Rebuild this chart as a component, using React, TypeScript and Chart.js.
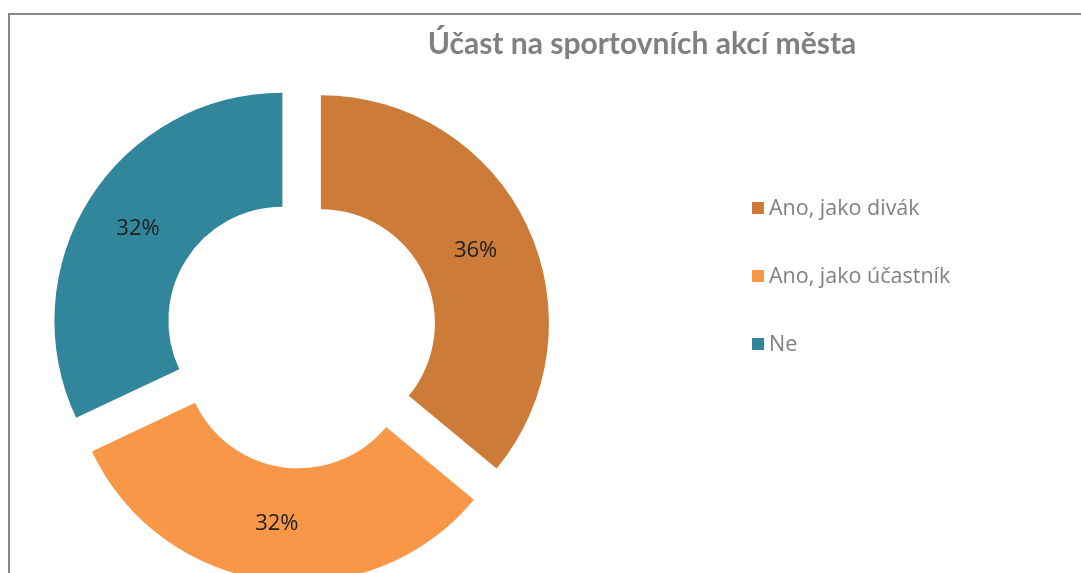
import React, { useEffect, useRef } from "react";
import { Chart, registerables } from "chart.js";

Chart.register(...registerables);

const chartTitle = "Účast na sportovních akcí města";
const categories = ["Ano, jako divák", "Ano, jako účastník", "Ne"];
const values = [36, 32, 32];
const colors = ["#CC7B39", "#F79747", "#31869C"];

const W = 1081;
const H = 573;
// displacement of each exploded slice along its bisector (px)
const SLICE_OFFSET = 22;

const decorPlugin = {
  id: "decor",
  beforeDraw(chart: any) {
    const ctx = chart.ctx;
    ctx.save();
    ctx.fillStyle = "#ffffff";
    ctx.fillRect(0, 0, W, H);
    ctx.fillStyle = "#888888";
    ctx.fillRect(8, 13, W - 8, 2);
    ctx.fillRect(8, 13, 2, H - 13);
    ctx.restore();
  },
  beforeDatasetsDraw(chart: any) {
    // explode every slice uniformly (Excel style): shift the whole arc along its bisector
    const meta = chart.getDatasetMeta(0);
    meta.data.forEach((arc: any) => {
      if (arc.__exploded) return;
      const orig = arc.draw.bind(arc);
      arc.draw = (ctx: CanvasRenderingContext2D, area: any) => {
        const mid = (arc.startAngle + arc.endAngle) / 2;
        ctx.save();
        ctx.translate(Math.cos(mid) * SLICE_OFFSET, Math.sin(mid) * SLICE_OFFSET);
        orig(ctx, area);
        ctx.restore();
      };
      arc.__exploded = true;
    });
  },
  afterDatasetsDraw(chart: any) {
    const ctx = chart.ctx;
    const meta = chart.getDatasetMeta(0);
    const data = chart.data.datasets[0].data as number[];
    const total = data.reduce((a: number, b: number) => a + b, 0);
    ctx.save();
    // data labels
    ctx.font = "22px 'Open Sans'";
    ctx.fillStyle = "#1e1e1e";
    ctx.textAlign = "center";
    ctx.textBaseline = "middle";
    meta.data.forEach((arc: any, i: number) => {
      const p = arc.getProps(["x", "y", "startAngle", "endAngle", "innerRadius", "outerRadius"], true);
      const mid = (p.startAngle + p.endAngle) / 2;
      const r = (p.innerRadius + p.outerRadius) / 2 + SLICE_OFFSET;
      const pct = Math.round((data[i] / total) * 100) + "%";
      ctx.fillText(pct, p.x + Math.cos(mid) * r, p.y + Math.sin(mid) * r);
    });
    // title
    ctx.font = "bold 30px Lato";
    ctx.fillStyle = "#808080";
    ctx.textBaseline = "alphabetic";
    ctx.fillText(chartTitle, 642, 54);
    // legend
    ctx.font = "21.5px 'Open Sans'";
    ctx.textAlign = "left";
    chart.data.labels.forEach((lab: string, i: number) => {
      const cy = 208 + i * 68;
      ctx.fillStyle = colors[i];
      ctx.fillRect(752, cy - 6, 12, 12);
      ctx.fillStyle = "#808080";
      ctx.fillText(lab, 769, cy + 7);
    });
    ctx.restore();
  },
};

export default function App() {
  const ref = useRef<HTMLCanvasElement | null>(null);
  useEffect(() => {
    if (!ref.current) return;
    const chart = new Chart(ref.current, {
      type: "doughnut",
      data: {
        labels: categories,
        datasets: [
          {
            data: values,
            backgroundColor: colors,
            borderWidth: 0,
            offset: 0,
            hoverOffset: 0,
            clip: false,
          } as any,
        ],
      },
      options: {
        responsive: false,
        animation: false,
        events: [],
        radius: 228,
        cutout: "50%",
        layout: { padding: { left: 0, right: 479, top: 92, bottom: 0 } },
        plugins: {
          legend: { display: false },
          title: { display: false },
          tooltip: { enabled: false },
        },
      } as any,
      plugins: [decorPlugin],
    });
    return () => chart.destroy();
  }, []);
  return (
    <div style={{ position: "fixed", left: 0, top: 0, width: W, height: H, overflow: "hidden", background: "#fff" }}>
      <canvas ref={ref} width={W} height={H} style={{ display: "block" }} />
    </div>
  );
}
